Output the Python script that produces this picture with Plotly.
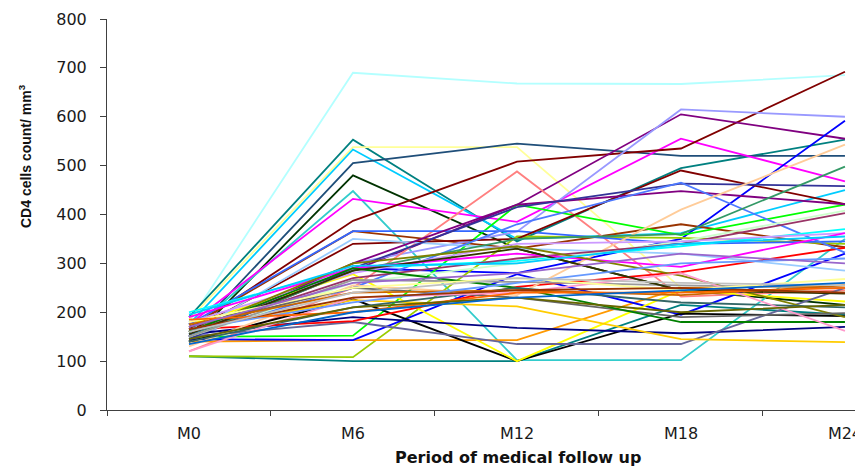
import plotly.graph_objects as go

visits = ["M0", "M6", "M12", "M18", "M24"]

# CD4 counts per patient at each visit (index = patient)
m0  = [180, 190, 185, 175, 150, 140, 160, 175, 165, 170, 150, 140, 120, 150, 110, 110, 140, 150, 145, 140,
       175, 155, 150, 165, 165, 175, 160, 155, 150, 145, 155, 130, 150, 200, 150, 160, 180, 190, 160, 150,
       170, 160, 140, 120, 155, 180, 175, 195, 165, 185, 170, 165, 160, 145, 135]
m6  = [690, 553, 538, 533, 505, 480, 448, 432, 387, 366, 285, 300, 250, 290, 100, 108, 143, 152, 143, 227,
       278, 190, 180, 225, 182, 366, 340, 350, 300, 290, 250, 255, 285, 290, 260, 270, 280, 290, 300, 266,
       250, 290, 210, 230, 285, 250, 240, 295, 220, 200, 260, 230, 240, 210, 200]
m12 = [668, 345, 538, 350, 545, 330, 102, 385, 508, 330, 420, 365, 488, 280, 100, 355, 143, 420, 278, 100,
       100, 168, 135, 212, 252, 366, 350, 330, 420, 415, 380, 235, 350, 305, 300, 310, 340, 320, 335, 262,
       230, 250, 250, 240, 330, 270, 245, 300, 260, 240, 280, 245, 270, 230, 230]
m18 = [667, 495, 250, 362, 520, 245, 102, 555, 535, 380, 605, 615, 232, 350, 215, 352, 250, 358, 195, 197,
       245, 157, 135, 145, 282, 340, 490, 320, 448, 463, 465, 410, 360, 335, 345, 340, 345, 293, 275, 255,
       190, 180, 220, 280, 245, 245, 235, 340, 300, 240, 320, 250, 260, 200, 245]
m24 = [685, 553, 240, 450, 520, 215, 350, 468, 692, 333, 555, 600, 245, 592, 195, 340, 255, 420, 320, 192,
       222, 170, 250, 139, 332, 345, 421, 285, 421, 458, 322, 543, 498, 370, 408, 403, 362, 362, 190, 250,
       198, 180, 210, 162, 238, 268, 255, 355, 310, 250, 300, 240, 255, 215, 260]

colors = ["#b3ffff", "#008080", "#ffff99", "#00ccff", "#1f4e79", "#003300", "#33cccc", "#ff00ff", "#800000", "#993300",
          "#800080", "#9999ff", "#ff8080", "#0000ff", "#008080", "#99cc00", "#ff9900", "#00ff00", "#0000ff", "#000000",
          "#ffff00", "#000080", "#666699", "#ffcc00", "#ff0000", "#3366ff", "#800000", "#99ccff", "#800080", "#333399",
          "#4d79ff", "#ffcc99", "#339966", "#00ffff", "#ccffcc", "#993366", "#cc99ff", "#ff00ff", "#808000", "#999999",
          "#666666", "#008000", "#336666", "#ff99cc", "#333300", "#ffff99", "#cc6600", "#00ccff", "#6699ff", "#ff6600",
          "#9966cc", "#993300", "#c0c0c0", "#666600", "#0066cc"]

fig = go.Figure()
for i in range(len(m0)):
    fig.add_trace(go.Scatter(
        x=visits,
        y=[m0[i], m6[i], m12[i], m18[i], m24[i]],
        mode="lines",
        line=dict(color=colors[i], width=1.8),
        showlegend=False,
        hoverinfo="skip",
    ))

axis_col = "#404040"
tick_font = dict(family="DejaVu Sans, Arial, sans-serif", size=16, color="#1a1a1a")
# the page body adds an 8px offset, so the figure is sized to fill the rest of the window
fig.update_layout(
    width=855, height=458,
    margin=dict(l=99, r=0, t=11, b=56),
    paper_bgcolor="white", plot_bgcolor="white",
    font=dict(family="Liberation Sans, Arial, sans-serif", color="#222222"),
    xaxis=dict(
        type="category", categoryorder="array", categoryarray=visits,
        range=[-0.5, 4.11], showgrid=False, zeroline=False, automargin=False,
        showline=True, linecolor=axis_col, linewidth=1,
        ticks="outside", ticklen=5, tickcolor=axis_col, tickson="boundaries",
        tickfont=tick_font, ticklabelstandoff=9,
    ),
    yaxis=dict(
        range=[0, 800], dtick=100, showgrid=False, zeroline=False, automargin=False,
        showline=True, linecolor=axis_col, linewidth=1,
        ticks="outside", ticklen=6, tickcolor=axis_col,
        tickfont=tick_font, ticklabelstandoff=10,
    ),
    annotations=[
        dict(text="<b>CD4 cells count/ mm<sup>3</sup></b>", textangle=-90,
             xref="paper", yref="paper", x=(25 - 107) / 756, y=(410 - 156) / 391,
             xanchor="center", yanchor="middle", showarrow=False,
             font=dict(family="Liberation Sans, Arial, sans-serif", size=14, color="#111111")),
        dict(text="<b>Period of medical follow up</b>",
             xref="paper", yref="paper", x=(518 - 107) / 756, y=(410 - 458) / 391,
             xanchor="center", yanchor="middle", showarrow=False,
             font=dict(family="DejaVu Sans, Arial, sans-serif", size=16, color="#111111")),
    ],
)

fig.write_html("out.html")
